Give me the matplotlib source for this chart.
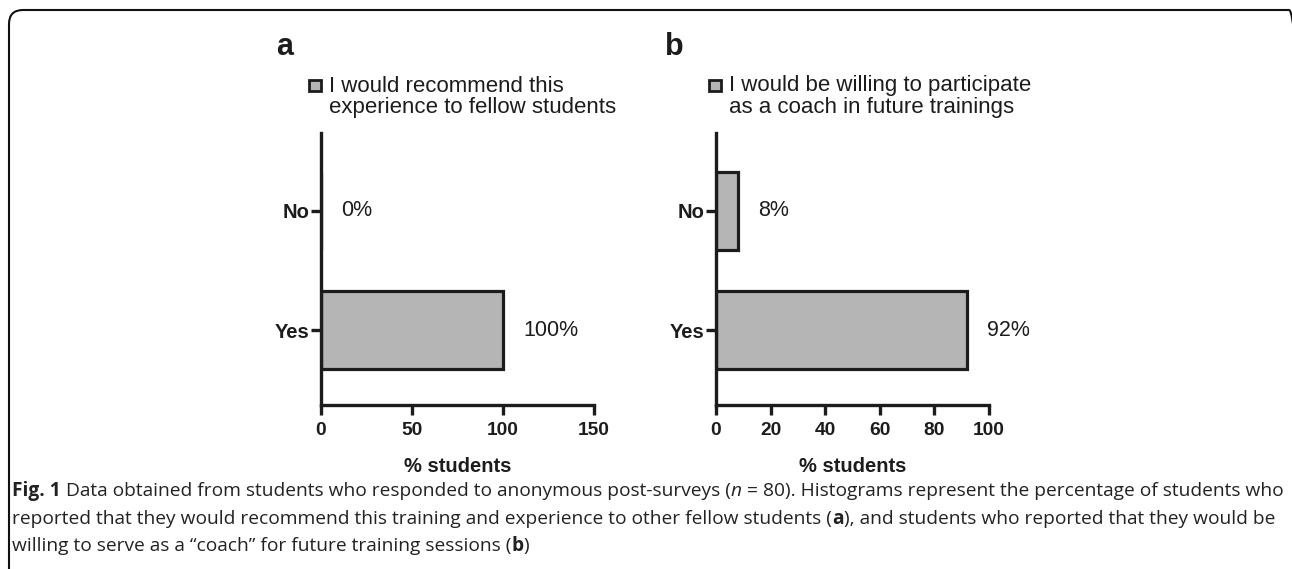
import matplotlib.pyplot as plt
from matplotlib.patches import FancyBboxPatch, Rectangle
from matplotlib.transforms import IdentityTransform

plt.rcParams['font.family'] = ['Liberation Sans', 'DejaVu Sans']

W, H = 1292, 569

# survey answers (% of students)
categories = ['Yes', 'No']
recommend_pct = [100, 0]
coach_pct = [92, 8]

panel_letters = ['a', 'b']
legend_lines = [
    ['I would recommend this', 'experience to fellow students'],
    ['I would be willing to participate', 'as a coach in future trainings'],
]
x_ticks = [[0, 50, 100, 150], [0, 20, 40, 60, 80, 100]]
x_label = '% students'

caption = [
    [('Fig. 1', 'bold', 'normal'),
     (' Data obtained from students who responded to anonymous post-surveys (', 'normal', 'normal'),
     ('n', 'normal', 'italic'),
     (' = 80). Histograms represent the percentage of students who', 'normal', 'normal')],
    [('reported that they would recommend this training and experience to other fellow students (', 'normal', 'normal'),
     ('a', 'bold', 'normal'),
     ('), and students who reported that they would be', 'normal', 'normal')],
    [('willing to serve as a \u201ccoach\u201d for future training sessions (', 'normal', 'normal'),
     ('b', 'bold', 'normal'),
     (')', 'normal', 'normal')],
]

BAR_FACE = '#b5b5b5'
INK = '#1c1c1c'

fig = plt.figure(figsize=(W / 100, H / 100), dpi=100)


def fx(x):
    return x / W


def fy(y):
    return 1 - y / H


# panel geometry in pixels: left, right, top, bottom
boxes = [(321, 594, 133, 405), (716, 989, 133, 405)]
legend_x = [309, 709]
letter_x = [276, 665]

for values, letter, leg, ticks, (l, r, t, b), lx, px in zip(
        [recommend_pct, coach_pct], panel_letters, legend_lines, x_ticks,
        boxes, legend_x, letter_x):
    ax = fig.add_axes([fx(l), fy(b), (r - l) / W, (b - t) / H])
    ypos = range(len(categories))
    ax.barh(ypos, values, height=0.66, color=BAR_FACE, edgecolor=INK,
            linewidth=2.3, zorder=2)
    for i, v in enumerate(values):
        ax.annotate(f'{v}%', (v, i), xytext=(14.5, 0), textcoords='offset points',
                    va='center', ha='left', fontsize=15.5, color=INK)
    ax.set_xlim(0, ticks[-1])
    ax.set_ylim(-0.63, 1.655)
    ax.set_xticks(ticks)
    ax.set_yticks(list(ypos))
    ax.set_yticklabels(categories)
    for s in ['top', 'right']:
        ax.spines[s].set_visible(False)
    for s in ['left', 'bottom']:
        ax.spines[s].set_linewidth(2.4)
        ax.spines[s].set_color(INK)
    ax.tick_params(axis='both', length=7, width=2.4, color=INK, labelcolor=INK)
    ax.tick_params(axis='y', pad=1, labelsize=14.5)
    ax.tick_params(axis='x', pad=5, labelsize=13.8)
    for lab in ax.get_xticklabels() + ax.get_yticklabels():
        lab.set_fontweight('bold')
    ax.set_xlabel(x_label, fontsize=14.5, fontweight='bold', labelpad=13, color=INK)
    ax.patch.set_visible(False)

    # panel letter and legend entry
    fig.text(fx(px), fy(55), letter, fontsize=22, fontweight='bold',
             va='baseline', ha='left', color=INK)
    fig.patches.append(Rectangle((fx(lx), fy(91)), 12 / W, 11 / H,
                                 transform=fig.transFigure, facecolor=BAR_FACE,
                                 edgecolor=INK, linewidth=2.0))
    for k, line in enumerate(leg):
        fig.text(fx(lx + 20), fy(86 + 21 * k), line, fontsize=16,
                 va='center', ha='left', color=INK)

# rounded frame around the figure (open at the bottom, runs off the right edge)
fig.patches.append(FancyBboxPatch((9, -40), 1294, H - 10 + 40,
                                  boxstyle='round,pad=0,rounding_size=14',
                                  transform=IdentityTransform(), facecolor='none',
                                  edgecolor='#111111', linewidth=1.5))

# caption with mixed font styles
renderer = fig.canvas.get_renderer()
cap_font = ['Open Sans', 'DejaVu Sans']


def seg_width(s, size, weight, style):
    t1 = fig.text(0, 0, s + '|', fontsize=size, fontweight=weight, fontstyle=style,
                  family=cap_font)
    t2 = fig.text(0, 0, '|', fontsize=size, fontweight=weight, fontstyle=style,
                  family=cap_font)
    w = t1.get_window_extent(renderer).width - t2.get_window_extent(renderer).width
    t1.remove()
    t2.remove()
    return w


base = 12.0
natural = sum(seg_width(s, base, w, st) for s, w, st in caption[0])
cap_size = base * 1262 / natural

for k, line in enumerate(caption):
    x = 12
    for s, weight, style in line:
        fig.text(fx(x), fy(491 + 27.5 * k), s, fontsize=cap_size, fontweight=weight,
                 fontstyle=style, family=cap_font, va='center', ha='left',
                 color='#222222')
        x += seg_width(s, cap_size, weight, style)

fig.savefig('out.png', dpi=100)
